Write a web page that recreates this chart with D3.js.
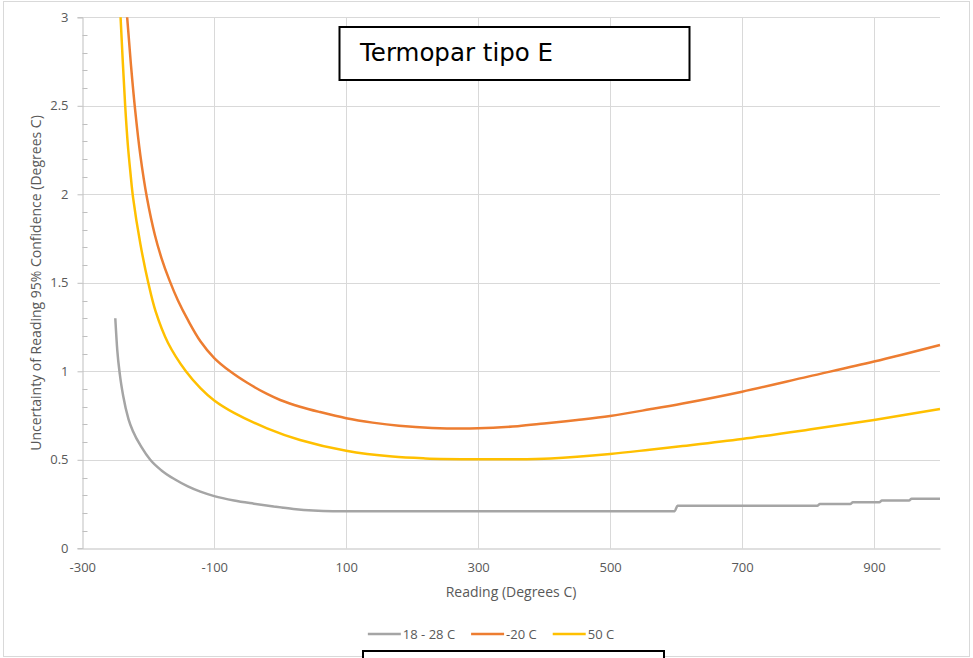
<!DOCTYPE html>
<html>
<head>
<meta charset="utf-8">
<script src="https://cdn.jsdelivr.net/npm/d3@7"></script>
<style>
  html, body { margin: 0; padding: 0; background: #fff; }
  svg { display: block; }
</style>
</head>
<body>
<svg id="chart" width="973" height="658"></svg>
<script>
// ---- data ----
const seriesNames = ["18 - 28 C", "-20 C", "50 C"];
const xTicks = [-300, -100, 100, 300, 500, 700, 900];
const xTickLabels = ["-300", "-100", "100", "300", "500", "700", "900"];
const yTicks = [0, 0.5, 1, 1.5, 2, 2.5, 3];
const yTickLabels = ["0", "0.5", "1", "1.5", "2", "2.5", "3"];
const titleText = "Termopar tipo E";
const xTitle = "Reading (Degrees C)";
const yTitle = "Uncertainty of Reading 95% Confidence (Degrees C)";

const gray = [
  [-250, 1.30], [-247, 1.12], [-243, 0.98], [-238, 0.86], [-230, 0.73], [-223, 0.66],
  [-210, 0.57], [-197, 0.50], [-180, 0.44], [-160, 0.39], [-140, 0.35], [-121, 0.32],
  [-100, 0.295], [-70, 0.27], [-40, 0.252], [-10, 0.236], [20, 0.222], [50, 0.213],
  [80, 0.21], [598, 0.21], [602, 0.24], [814, 0.24], [818, 0.25], [864, 0.25],
  [868, 0.26], [908, 0.26], [912, 0.27], [953, 0.27], [957, 0.28], [1000, 0.28]
];
const orange = [
  [-250, 3.95], [-240, 3.4], [-232, 3.0], [-226, 2.72], [-220, 2.48], [-212, 2.22],
  [-202, 1.98], [-190, 1.77], [-180, 1.64], [-168, 1.515], [-155, 1.40], [-140, 1.29],
  [-121, 1.17], [-100, 1.075], [-76, 1.0], [-50, 0.935], [-20, 0.872], [0, 0.838],
  [30, 0.80], [60, 0.77], [100, 0.735], [140, 0.71], [180, 0.692], [230, 0.68],
  [300, 0.678], [360, 0.69], [400, 0.705], [450, 0.725], [500, 0.748], [560, 0.785],
  [610, 0.818], [700, 0.885], [800, 0.97], [900, 1.055], [1000, 1.149]
];
const yellow = [
  [-250, 3.65], [-246, 3.3], [-242, 3.0], [-238.5, 2.74], [-235, 2.5], [-231, 2.28],
  [-227, 2.12], [-223, 1.98], [-212, 1.72], [-200, 1.5], [-189, 1.34], [-170, 1.16],
  [-143, 1.0], [-121, 0.905], [-100, 0.835], [-70, 0.765], [-20, 0.678], [30, 0.612],
  [100, 0.551], [170, 0.518], [220, 0.508], [300, 0.503], [350, 0.503], [410, 0.508],
  [500, 0.533], [560, 0.557], [610, 0.578], [700, 0.618], [800, 0.67], [900, 0.725],
  [1000, 0.787]
];
const seriesData = [gray, orange, yellow];
const colors = ["#A5A5A5", "#ED7D31", "#FFC000"];

// ---- layout ----
const svg = d3.select("#chart");
const plot = { left: 82.3, right: 940, top: 17.3, bottom: 548.3 };
const x = d3.scaleLinear().domain([-300, 1000]).range([plot.left, plot.right]);
const y = d3.scaleLinear().domain([0, 3]).range([plot.bottom, plot.top]);
const font = "'Open Sans', 'Noto Sans', sans-serif";
const textColor = "#595959";
const gridColor = "#D9D9D9";
const axisColor = "#BFBFBF";

// outer border
svg.append("rect").attr("x", 3.5).attr("y", 1.5).attr("width", 966).attr("height", 655)
  .attr("fill", "#fff").attr("stroke", gridColor).attr("stroke-width", 1);

// gridlines
const g = svg.append("g");
g.selectAll(".hg").data(yTicks.filter(d => d > 0)).join("line")
  .attr("x1", plot.left).attr("x2", plot.right)
  .attr("y1", d => Math.round(y(d)) + 0.5).attr("y2", d => Math.round(y(d)) + 0.5)
  .attr("stroke", gridColor).attr("stroke-width", 1);
g.selectAll(".vg").data(xTicks.filter(d => d > -300)).join("line")
  .attr("y1", plot.top).attr("y2", plot.bottom)
  .attr("x1", d => Math.round(x(d)) + 0.5).attr("x2", d => Math.round(x(d)) + 0.5)
  .attr("stroke", gridColor).attr("stroke-width", 1);

// y axis
const yAxisG = svg.append("g").attr("transform", `translate(${Math.round(plot.left) + 0.5},0)`);
yAxisG.call(d3.axisLeft(y).tickValues(yTicks).tickSize(5).tickPadding(9)
  .tickFormat((d, i) => yTickLabels[i]));
const minorY = d3.range(0, 31).map(i => i / 10).filter(v => Math.abs(v * 2 - Math.round(v * 2)) > 1e-6);
yAxisG.selectAll(".minor").data(minorY).join("line")
  .attr("x1", 0).attr("x2", 5)
  .attr("y1", d => Math.round(y(d)) + 0.5).attr("y2", d => Math.round(y(d)) + 0.5)
  .attr("stroke", axisColor);
yAxisG.select(".domain").attr("stroke", axisColor);
yAxisG.selectAll(".tick line").attr("stroke", axisColor);
yAxisG.selectAll(".tick text").attr("fill", textColor).style("font-family", font).style("font-size", "13px");

// x axis
const xAxisG = svg.append("g").attr("transform", `translate(0,${Math.round(plot.bottom) + 0.5})`);
xAxisG.call(d3.axisBottom(x).tickValues(xTicks).tickSize(0).tickPadding(14)
  .tickFormat((d, i) => xTickLabels[i]));
xAxisG.select(".domain").attr("stroke", axisColor);
xAxisG.selectAll(".tick text").attr("fill", textColor).style("font-family", font).style("font-size", "13px");

// clip
svg.append("clipPath").attr("id", "clip").append("rect")
  .attr("x", plot.left).attr("y", plot.top).attr("width", plot.right - plot.left + 4)
  .attr("height", plot.bottom - plot.top);

const smoothLine = d3.line().x(d => x(d[0])).y(d => y(d[1])).curve(d3.curveCatmullRom.alpha(0.5));
const stepLine = d3.line().x(d => x(d[0])).y(d => y(d[1])).curve(d3.curveMonotoneX);
svg.append("g").attr("clip-path", "url(#clip)")
  .selectAll("path").data(seriesData).join("path")
  .attr("d", (d, i) => i === 0 ? stepLine(d) : smoothLine(d)).attr("fill", "none")
  .attr("stroke", (d, i) => colors[i]).attr("stroke-width", 2.5)
  .attr("stroke-linejoin", "round");

// axis titles
svg.append("text").attr("x", 511).attr("y", 597).attr("text-anchor", "middle")
  .attr("fill", textColor).style("font-family", font).style("font-size", "14px").text(xTitle);
svg.append("text").attr("transform", "translate(41,283) rotate(-90)").attr("text-anchor", "middle")
  .attr("fill", textColor).style("font-family", font).style("font-size", "14px").text(yTitle);

// legend
const leg = svg.append("g");
const items = leg.selectAll("g").data(seriesNames).join("g");
items.append("line").attr("x1", 0).attr("x2", 33).attr("y1", 0).attr("y2", 0)
  .attr("stroke", (d, i) => colors[i]).attr("stroke-width", 2.5);
items.append("text").attr("x", 35).attr("y", 4.5).attr("fill", textColor)
  .style("font-family", font).style("font-size", "13px").text(d => d);
let cx = 0;
const positions = [];
items.each(function () {
  positions.push(cx);
  const w = d3.select(this).select("text").node().getComputedTextLength();
  cx += 35 + w + 16;
});
const total = cx - 16;
const startX = 491 - total / 2;
items.attr("transform", (d, i) => `translate(${startX + positions[i]},634)`);

// title box
svg.append("rect").attr("x", 339.5).attr("y", 27).attr("width", 350).attr("height", 53)
  .attr("fill", "#fff").attr("stroke", "#000").attr("stroke-width", 2);
svg.append("text").attr("x", 360).attr("y", 61).attr("fill", "#000")
  .style("font-family", "'DejaVu Sans', Verdana, sans-serif").style("font-size", "24.5px").text(titleText);

// lower box
svg.append("rect").attr("x", 363).attr("y", 651).attr("width", 301).attr("height", 30)
  .attr("fill", "#fff").attr("stroke", "#000").attr("stroke-width", 2);
</script>
</body>
</html>
